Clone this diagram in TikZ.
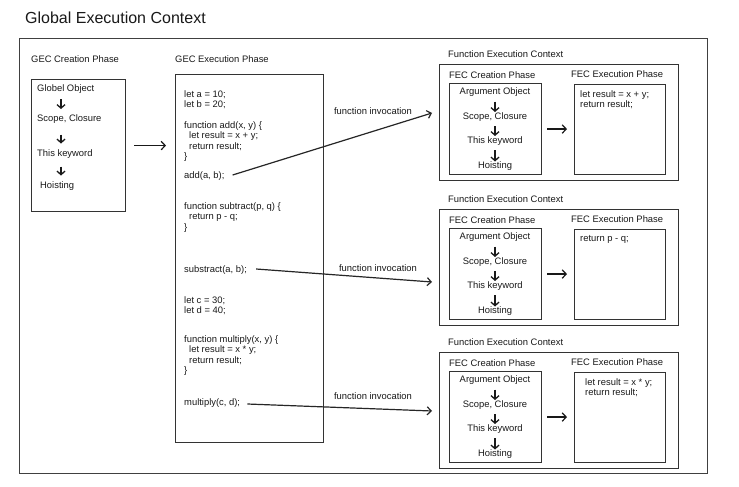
\documentclass[tikz,border=0pt]{standalone}
\usepackage{fontspec}
\setmainfont{Liberation Sans}
\usetikzlibrary{arrows.meta,calc}
\newcommand\fecblock[4]{%
  \node[lbl] (#1lab) at (448,#2-10) {Function Execution Context};
  \node[box, minimum width=239, minimum height=116] (#1) at (439,#2) {};
  \node[lbl] (#1cl) at (449,#2+11) {FEC Creation Phase};
  \node[lbl] (#1el) at (571,#2+10) {FEC Execution Phase};
  \node[box, minimum width=92, minimum height=91] (#1cb) at (449,#2+19) {};
  \node[box, minimum width=91, minimum height=90] (#1eb) at (574,#2+20) {};
  \node[stack] (#1a) at (495,#2+28.5) {Argument Object};
  \node[stack] (#1b) at (495,#2+53) {Scope, Closure};
  \node[stack] (#1c) at (495,#2+77) {This keyword};
  \node[stack] (#1d) at (495,#2+102.5) {Hoisting};
  \draw[darr, shorten <=4.5pt, shorten >=0.5pt] (#1a) -- (#1b);
  \draw[darr, shorten <=4.5pt, shorten >=0.5pt] (#1b) -- (#1c);
  \draw[darr, shorten <=4.5pt, shorten >=0.5pt] (#1c) -- (#1d);
  \draw[harr, shorten <=5pt, shorten >=7pt] (#1cb.east) -- (#1eb.west |- #1cb.east);
  \node[lbl, align=left, anchor=north west] (#1code) at (#3,#2+26.5) {#4};
}
\begin{document}
\begin{tikzpicture}[x=1pt,y=-1pt,
  every node/.style={inner sep=0pt, text=black!90},
  txt/.style={font=\fontsize{9.4}{10.3}\selectfont},
  lbl/.style={txt, anchor=west},
  box/.style={draw=black!80, line width=1.1pt, anchor=north west, inner sep=0pt},
  stack/.style={txt, text height=6.7pt, text depth=1.9pt},
  darr/.style={draw=black!90, line width=1.3pt, -{Straight Barb[length=3.5pt,width=8pt]}},
  harr/.style={draw=black!90, line width=1.2pt, -{Straight Barb[length=4pt,width=8.5pt]}},
  conn/.style={draw=black!85, line width=1.2pt, -{Straight Barb[length=4pt,width=8pt]}},
]
\useasboundingbox (0,0) rectangle (739,487);
\fill[white] (0,0) rectangle (739,487);

\node[anchor=west, font=\fontsize{16}{19}\selectfont] (title) at (25,18) {Global Execution Context};
\node[box, draw=black!75, line width=1pt, minimum width=688, minimum height=435] (gec) at (19,38) {};

% GEC creation phase
\node[lbl] (gcl) at (31,59) {GEC Creation Phase};
\node[box, minimum width=94, minimum height=132] (gcbox) at (31,79) {};
\node[stack, anchor=west] (g1) at (37,89) {Globel Object};
\node[stack, anchor=west] (g2) at (37,119) {Scope, Closure};
\node[stack, anchor=west] (g3) at (37,154) {This keyword};
\node[stack, anchor=west] (g4) at (40,186) {Hoisting};
\coordinate (gx) at (61,0);
\draw[darr, shorten <=5.5pt, shorten >=5.5pt] (g1.south -| gx) -- (g2.north -| gx);
\draw[darr, shorten <=11pt, shorten >=6pt] (g2.south -| gx) -- (g3.north -| gx);
\draw[darr, shorten <=8pt, shorten >=6pt] (g3.south -| gx) -- (g4.north -| gx);

% GEC execution phase
\node[lbl] (gel) at (175,59) {GEC Execution Phase};
\node[box, minimum width=148, minimum height=368] (gebox) at (175,74) {};
\draw[harr, shorten <=8pt, shorten >=9pt] (gcbox.east) -- (gebox.west |- gcbox.east);

\node[lbl, align=left] (c1) at (184,99.5) {let a = 10;\\let b = 20;};
\node[lbl, align=left] (c2) at (184,141.5) {function add(x, y) \{\\\hspace*{5pt}let result = x + y;\\\hspace*{5pt}return result;\\\}};
\node[lbl] (cadd) at (184,176) {add(a, b);};
\node[lbl, align=left] (c3) at (184,217.5) {function subtract(p, q) \{\\\hspace*{5pt}return p - q;\\\}};
\node[lbl] (csub) at (184,270) {substract(a, b);};
\node[lbl, align=left] (c4) at (184,306) {let c = 30;\\let d = 40;};
\node[lbl, align=left] (c5) at (184,355.5) {function multiply(x, y) \{\\\hspace*{5pt}let result = x * y;\\\hspace*{5pt}return result;\\\}};
\node[lbl] (cmul) at (184,403) {multiply(c, d);};

% Function execution contexts
\fecblock{fa}{64}{580}{let result = x + y;\\return result;}
\fecblock{fb}{209}{580}{return p - q;}
\fecblock{fc}{352}{585}{let result = x * y;\\return result;}

% invocations
\coordinate (ea) at ($(fa.north west)+(-7,49)$);
\coordinate (eb) at ($(fb.north west)+(-7,73)$);
\coordinate (ec) at ($(fc.north west)+(-7,59)$);
\draw[conn] ($(cadd.east)+(8,-1)$) -- (ea);
\draw[conn] ($(csub.east)+(9,-1)$) -- (eb);
\draw[conn] ($(cmul.east)+(7,1)$) -- (ec);
\node[txt] (ia) at (373,111) {function invocation};
\node[txt] (ib) at (378,268) {function invocation};
\node[txt] (ic) at (373,396) {function invocation};
\end{tikzpicture}
\end{document}
